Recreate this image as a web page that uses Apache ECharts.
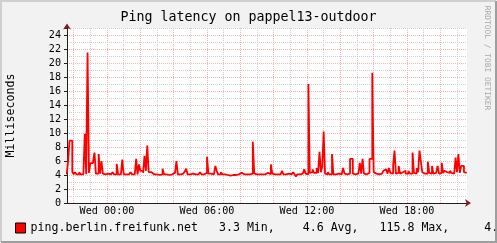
<!DOCTYPE html>
<html><head><meta charset="utf-8">
<script src="https://cdn.jsdelivr.net/npm/echarts@6/dist/echarts.min.js"></script>
<style>html,body{margin:0;padding:0;background:#F2F2F2;overflow:hidden}#c{width:497px;height:243px}</style>
</head><body><div id="c"></div>
<script>
// ---- data ----
const titleText = 'Ping latency on pappel13-outdoor';
const yAxisTitle = 'Milliseconds';
const watermarkText = 'RRDTOOL / TOBI OETIKER';
const seriesName = 'ping.berlin.freifunk.net';
const statLabels = ['Min', 'Avg', 'Max', 'Last'];
const statValues = [3.3, 4.6, 115.8, 4.3];
const dayNames = ['Sun', 'Mon', 'Tue', 'Wed', 'Thu', 'Fri', 'Sat'];
// 5-minute samples starting Tue 21:35 (one row per hour)
const firstSample = Date.UTC(2024, 0, 2, 21, 35);
const sampleMinutes = 5;
const windowStart = Date.UTC(2024, 0, 2, 21, 36);
const windowEnd = Date.UTC(2024, 0, 3, 21, 36);
const latencyMs = [
  4.1, 6.0, 8.9, 8.9, 4.5, 4.1, 4.4, 4.1, 4.1, 4.4, 4.1, 4.1,
  4.1, 9.9, 4.1, 21.5, 4.3, 5.7, 5.7, 6.0, 7.2, 4.2, 4.2, 7.0,
  4.2, 6.0, 4.2, 4.1, 4.1, 4.2, 4.1, 4.1, 4.1, 4.4, 4.1, 4.1,
  5.6, 4.1, 4.1, 4.1, 6.2, 4.1, 4.1, 4.1, 4.1, 4.2, 4.4, 4.1,
  4.1, 4.1, 6.3, 4.1, 5.5, 4.6, 4.6, 4.3, 6.75, 4.6, 8.2, 4.4,
  4.4, 4.2, 4.1, 4.1, 4.1, 4.1, 4.0, 4.1, 4.1, 4.9, 4.1, 4.1,
  4.1, 4.0, 4.1, 4.1, 4.2, 4.3, 4.4, 6.0, 4.1, 4.1, 4.2, 4.2,
  4.1, 4.5, 4.9, 4.1, 4.1, 4.2, 4.2, 4.1, 4.1, 4.1, 4.1, 4.1,
  4.4, 4.1, 4.1, 4.1, 4.3, 6.6, 4.2, 4.2, 4.1, 4.1, 4.1, 5.3,
  4.6, 4.1, 4.1, 4.4, 4.1, 4.1, 4.0, 4.0, 4.0, 3.9, 3.9, 4.0,
  4.0, 4.0, 4.1, 4.1, 4.3, 4.3, 4.1, 4.1, 4.2, 4.1, 4.1, 4.1,
  4.1, 4.2, 8.75, 4.2, 4.1, 4.1, 4.1, 4.1, 4.1, 4.1, 4.1, 4.3,
  4.3, 4.1, 4.1, 5.5, 4.2, 4.1, 4.1, 4.1, 4.2, 4.1, 4.1, 4.6,
  4.1, 4.1, 4.2, 4.2, 4.1, 4.1, 4.2, 4.4, 4.1, 3.8, 4.1, 4.1,
  4.2, 4.2, 4.2, 4.8, 4.2, 4.1, 17.0, 4.3, 4.4, 4.8, 4.3, 4.3,
  5.0, 4.3, 7.3, 4.4, 5.2, 10.2, 4.2, 4.1, 4.4, 4.1, 4.1, 7.0,
  4.1, 4.1, 4.1, 4.2, 4.1, 4.1, 4.2, 5.0, 4.2, 4.1, 4.1, 4.2,
  6.3, 6.3, 4.2, 4.1, 4.1, 4.2, 4.1, 5.75, 4.2, 6.3, 4.2, 4.1,
  4.2, 4.3, 6.3, 6.3, 18.6, 4.4, 4.2, 4.1, 4.1, 4.1, 4.2, 4.2,
  4.6, 4.8, 4.8, 4.2, 5.0, 4.3, 4.2, 5.3, 7.5, 4.2, 4.3, 5.3,
  4.2, 4.4, 4.2, 4.6, 4.2, 4.2, 4.6, 4.2, 4.2, 7.2, 4.3, 4.2,
  5.0, 4.4, 7.5, 5.9, 4.4, 4.2, 4.3, 4.2, 5.9, 4.3, 4.2, 5.3,
  4.2, 4.3, 4.2, 5.3, 4.2, 4.3, 5.75, 4.3, 4.6, 4.4, 4.2, 4.3,
  4.6, 4.3, 4.2, 4.3, 6.5, 4.4, 7.0, 4.3, 5.3, 5.3, 4.4, 4.3
];

// ---- build ----
const MONO = '"DejaVu Sans Mono", monospace';
const HOUR = 3600 * 1000;
const STEP = sampleMinutes * 60 * 1000;
const seriesData = latencyMs.map((v, i) => [firstSample + i * STEP, v]);
seriesData.push([firstSample + latencyMs.length * STEP, latencyMs[latencyMs.length - 1]]);

const pad = (v, w) => v.toFixed(1).padStart(w);
const statWidths = [6, 7, 8, 8];
const legendLine = seriesName + statValues.map((v, i) => pad(v, statWidths[i]) + ' ' + statLabels[i] + (i < 3 ? ',' : '')).join('');

function timeLabel(value) {
  const d = new Date(value);
  const h = d.getUTCHours();
  if (d.getUTCMinutes() !== 0 || h % 6 !== 0) return '';
  return dayNames[d.getUTCDay()] + ' ' + String(h).padStart(2, '0') + ':00';
}

const DOT = [1, 1];
const MINOR = '#CECECE';
const MAJOR = '#F2B4B4';
const AXIS = '#1F1F1F';
const ARROW = '#801F1F';

const chart = echarts.init(document.getElementById('c'), null, {renderer: 'canvas'});
chart.setOption({
  backgroundColor: '#F2F2F2',
  animation: false,
  useUTC: true,
  textStyle: {fontFamily: MONO},
  title: {
    text: titleText, left: 'center', top: 11, padding: 0,
    textStyle: {fontFamily: MONO, fontSize: 13.3, fontWeight: 'normal', color: '#000'}
  },
  legend: {
    left: 15, top: 222, padding: 0, icon: 'rect', itemWidth: 10, itemHeight: 10,
    itemStyle: {borderColor: '#000', borderWidth: 1},
    textStyle: {fontFamily: MONO, fontSize: 11.6, color: '#000'},
    formatter: () => legendLine,
    data: [seriesName]
  },
  grid: {left: 67, top: 28, width: 400, height: 175, show: true, backgroundColor: '#FFFFFF', borderWidth: 0, outerBoundsMode: 'none'},
  xAxis: [
    {
      type: 'time', min: windowStart, max: windowEnd, minInterval: HOUR, maxInterval: HOUR, position: 'bottom',
      axisLine: {show: true, lineStyle: {color: AXIS, width: 1}},
      axisTick: {show: false}, axisLabel: {show: false},
      splitLine: {show: true, showMinLine: false, showMaxLine: false, lineStyle: {color: MINOR, type: DOT, width: 1}}
    },
    {
      type: 'time', min: windowStart, max: windowEnd, minInterval: 3 * HOUR, maxInterval: 3 * HOUR, position: 'bottom',
      axisLine: {show: true, symbol: ['none', 'arrow'], symbolSize: [6, 6], symbolOffset: [0, 4], lineStyle: {color: ARROW, width: 0}},
      axisTick: {show: false},
      axisLabel: {show: true, formatter: timeLabel, margin: 3, fontFamily: MONO, fontSize: 10.15, color: '#000', hideOverlap: false},
      splitLine: {show: true, showMinLine: false, showMaxLine: false, lineStyle: {color: MAJOR, type: DOT, width: 1}}
    }
  ],
  yAxis: [
    {
      type: 'value', min: 0, max: 25, interval: 1, position: 'left',
      axisLine: {show: true, lineStyle: {color: AXIS, width: 1}},
      axisTick: {show: false}, axisLabel: {show: false},
      splitLine: {show: true, showMinLine: false, lineStyle: {color: MINOR, type: DOT, width: 1}}
    },
    {
      type: 'value', min: 0, max: 25, interval: 2, position: 'left',
      name: yAxisTitle, nameLocation: 'middle', nameRotate: 90, nameGap: 50,
      nameTextStyle: {fontFamily: MONO, fontSize: 11.6, color: '#000'},
      axisLine: {show: true, symbol: ['none', 'arrow'], symbolSize: [6, 6], symbolOffset: [0, 4.5], lineStyle: {color: ARROW, width: 0}},
      axisTick: {show: true, length: 3, lineStyle: {color: AXIS}},
      axisLabel: {margin: 6, fontFamily: MONO, fontSize: 10.15, color: '#000', formatter: v => (v % 2 === 0 ? String(v) : '')},
      splitLine: {show: true, showMinLine: false, showMaxLine: false, lineStyle: {color: MAJOR, type: DOT, width: 1}}
    }
  ],
  series: [{
    name: seriesName, type: 'line', xAxisIndex: 0, yAxisIndex: 0, step: 'end',
    symbol: 'none', showSymbol: false, clip: true,
    data: seriesData,
    lineStyle: {color: '#FF0000', width: 1.8},
    itemStyle: {color: '#FF0000'}
  }],
  graphic: [
    {type: 'text', x: 487.5, y: 58, rotation: -Math.PI / 2, z: 50,
     style: {text: watermarkText, fill: '#A8A8A8', font: '7.9px ' + MONO, align: 'center', verticalAlign: 'middle'}},
    {type: 'polyline', z: 100, shape: {points: [[1, 242], [1, 1], [496, 1]]}, style: {stroke: '#CFCFCF', lineWidth: 2, fill: null}},
    {type: 'polyline', z: 100, shape: {points: [[1, 242], [496, 242], [496, 1]]}, style: {stroke: '#9E9E9E', lineWidth: 2, fill: null}}
  ]
});
</script></body></html>
